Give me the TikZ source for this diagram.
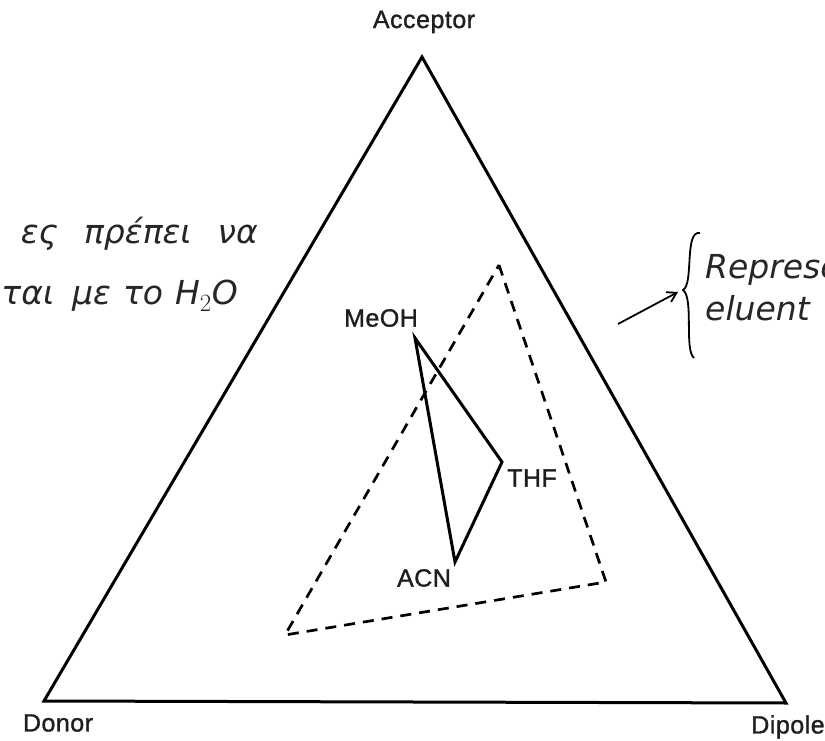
\documentclass[tikz,border=0pt]{standalone}
\usepackage{fontspec}
\setmainfont{Liberation Sans}[FakeBold=1.2]
\newfontfamily\handfont{DejaVu Sans}[ItalicFont=* Oblique]
\usetikzlibrary{arrows.meta}
\tikzset{
  lbl/.style={font=\fontsize{25}{27}\selectfont\addfontfeature{LetterSpace=2}, text=black!88, inner sep=0pt},
  edge/.style={line width=3pt, line join=miter},
  dashline/.style={line width=2.7pt, dash pattern=on 11pt off 8pt},
  hand/.style={font=\handfont\itshape\fontsize{33}{35}\selectfont, text=black!85, inner sep=0pt},
}
\begin{document}
\begin{tikzpicture}[x=1pt,y=-1pt]
\useasboundingbox (0,0) rectangle (825,741);
\clip (0,0) rectangle (825,741);
\fill[white] (0,0) rectangle (825,741);
% outer triangle
\coordinate (A) at (422,57);
\coordinate (D) at (44,701);
\coordinate (P) at (786,703);
\draw[edge] (A) -- (D) -- (P) -- cycle;
\node[lbl] (acc) at (424,22) {Acceptor};
\node[lbl] (don) at (58,723) {Donor};
\node[lbl] (dip) at (788,727) {Dipole};
% dashed triangle
\coordinate (t1) at (499,265);
\coordinate (t2) at (606,582);
\coordinate (t3) at (285,635);
\draw[dashline] (t1) -- (t2) -- (t3) -- cycle;
% solid inner triangle
\coordinate (m) at (415,338);
\coordinate (h) at (502,462);
\coordinate (c) at (455,562);
\draw[edge] (m) -- (h) -- (c) -- cycle;
\node[lbl] (meoh) at (381,318) {MeOH};
\node[lbl] (thf) at (532,478) {THF};
\node[lbl] (acn) at (424,578) {ACN};
% handwriting left
\node[hand, anchor=base east] (g1) at (258,243) {ες\hspace{26pt}πρέπει\hspace{26pt}να};
\node[hand, anchor=base east] (g2) at (238,304) {ται\hspace{18pt}με\hspace{12pt}το\hspace{12pt}H$_2$O};
% handwriting right
\node[hand, anchor=base west] (r1) at (705,278) {Represe};
\node[hand, anchor=base west] (r2) at (705,320) {eluent};
\draw[line width=1.8pt] (700,233) .. controls (684,230) and (694,284) .. (683,290)
  .. controls (694,298) and (684,350) .. (694,358);
\coordinate (ar0) at (618,324);
\coordinate (ar1) at (678,292);
\draw[line width=1.8pt, -{Straight Barb[length=9pt,width=11pt]}] (ar0) -- (ar1);
\end{tikzpicture}
\end{document}
